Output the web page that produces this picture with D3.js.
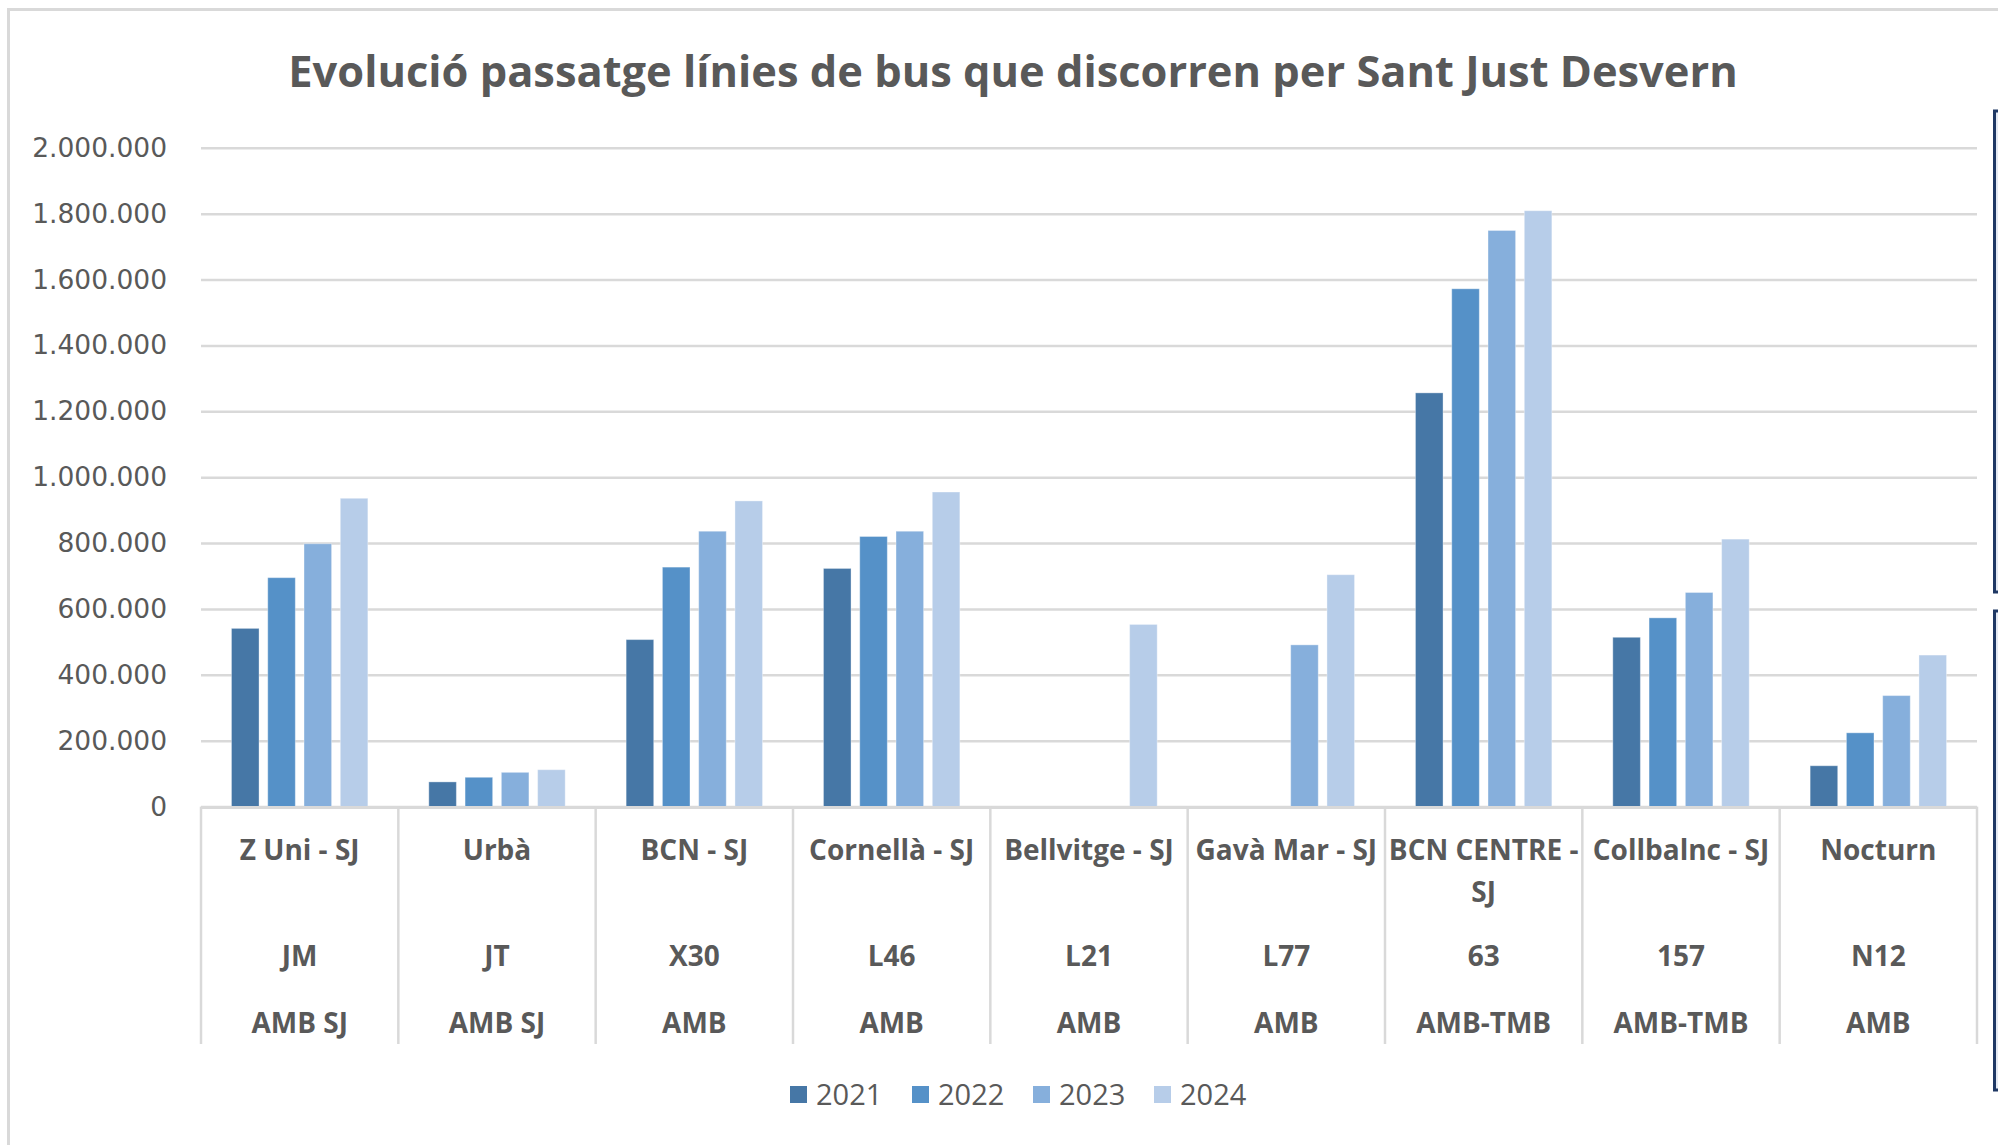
<!DOCTYPE html>
<html>
<head>
<meta charset="utf-8">
<script src="https://cdn.jsdelivr.net/npm/d3@7"></script>
<style>
  html, body { margin: 0; padding: 0; background: #ffffff; overflow: hidden; }
  svg { display: block; }
</style>
</head>
<body>
<svg id="chart" width="1998" height="1145"></svg>
<script>
// ---------- DATA ----------
const titleText = "Evolució passatge línies de bus que discorren per Sant Just Desvern";
const names = ["Z Uni - SJ", "Urbà", "BCN - SJ", "Cornellà - SJ", "Bellvitge - SJ", "Gavà Mar - SJ", "BCN CENTRE - SJ", "Collbalnc - SJ", "Nocturn"];
const codes = ["JM", "JT", "X30", "L46", "L21", "L77", "63", "157", "N12"];
const operators = ["AMB SJ", "AMB SJ", "AMB", "AMB", "AMB", "AMB", "AMB-TMB", "AMB-TMB", "AMB"];
const years = ["2021", "2022", "2023", "2024"];
const v2021 = [541000, 75000, 507000, 723000, null, null, 1256000, 514000, 124000];
const v2022 = [695000, 89000, 727000, 820000, null, null, 1572000, 573000, 224000];
const v2023 = [798000, 104000, 836000, 836000, null, 491000, 1749000, 650000, 337000];
const v2024 = [936000, 112000, 928000, 955000, 553000, 704000, 1809000, 812000, 460000];
const yTicks = [0, 200000, 400000, 600000, 800000, 1000000, 1200000, 1400000, 1600000, 1800000, 2000000];
const colors = ["#4677a6", "#5591c8", "#86afdc", "#b7cde9"];

const seriesValues = [v2021, v2022, v2023, v2024];

// ---------- LAYOUT ----------
const svg = d3.select("#chart");
const plot = { left: 201, right: 1977, top: 147.8, bottom: 806.6 };
const grey = "#595959";
const gridCol = "#d9d9d9";

const locale = d3.formatLocale({ decimal: ",", thousands: ".", grouping: [3], currency: ["", "€"] });
const fmt = locale.format(",d");

const x0 = d3.scaleBand().domain(names).range([plot.left, plot.right]).paddingInner(0).paddingOuter(0);
const x1 = d3.scaleBand().domain(years).range([0, x0.bandwidth()]).paddingInner(0.24).paddingOuter(0.84);
const y = d3.scaleLinear().domain([0, 2000000]).range([plot.bottom, plot.top]);
const color = d3.scaleOrdinal().domain(years).range(colors);

// outer chart border
svg.append("rect")
  .attr("x", 8.5).attr("y", 9.5).attr("width", 2200).attr("height", 1300)
  .attr("fill", "none").attr("stroke", gridCol).attr("stroke-width", 3);

// navy boxes at right edge (adjacent elements)
[[111, 592], [611, 1090]].forEach(([t, b]) => {
  svg.append("rect")
    .attr("x", 1994.5).attr("y", t).attr("width", 60).attr("height", b - t)
    .attr("fill", "#e4e9f2").attr("stroke", "#1f3864").attr("stroke-width", 3);
});

// gridlines
const yAxis = d3.axisLeft(y).tickValues(yTicks).tickFormat(fmt)
  .tickSize(-(plot.right - plot.left)).tickPadding(34);
const gy = svg.append("g").attr("transform", `translate(${plot.left},0)`).call(yAxis);
gy.select(".domain").remove();
gy.selectAll(".tick line").attr("stroke", gridCol).attr("stroke-width", 2.5);
gy.selectAll(".tick text")
  .attr("fill", grey)
  .style("font-family", "'DejaVu Sans', sans-serif")
  .style("font-size", "26.5px");

// bars
const groups = svg.append("g").selectAll("g")
  .data(names.map((n, i) => ({ name: n, i })))
  .join("g")
  .attr("transform", d => `translate(${x0(d.name)},0)`);

groups.selectAll("rect")
  .data(d => years.map((yr, k) => ({ year: yr, value: seriesValues[k][d.i] })).filter(e => e.value != null))
  .join("rect")
  .attr("x", d => x1(d.year))
  .attr("width", x1.bandwidth())
  .attr("y", d => y(d.value))
  .attr("height", d => y(0) - y(d.value))
  .attr("fill", d => color(d.year))
  .attr("stroke", "rgba(255,255,255,0.35)")
  .attr("stroke-width", 1);

// category axis: baseline + dividers
const axisBottomY = 1044;
svg.append("line")
  .attr("x1", plot.left).attr("x2", plot.right)
  .attr("y1", y(0) + 1).attr("y2", y(0) + 1)
  .attr("stroke", gridCol).attr("stroke-width", 3);
const bounds = names.map(n => x0(n)).concat([x0(names[names.length - 1]) + x0.bandwidth()]);
svg.append("g").selectAll("line").data(bounds).join("line")
  .attr("x1", d => d).attr("x2", d => d)
  .attr("y1", y(0)).attr("y2", axisBottomY)
  .attr("stroke", gridCol).attr("stroke-width", 2.5);

// category labels
const catFont = "'Open Sans', sans-serif";
const catSize = 28;
const catG = svg.append("g")
  .style("font-family", catFont).style("font-size", catSize + "px")
  .style("font-weight", 700).attr("fill", grey).attr("text-anchor", "middle");

function wrapLines(text, maxW) {
  const words = text.split(" ");
  const tmp = catG.append("text");
  const lines = [];
  let cur = "";
  words.forEach(w => {
    const test = cur ? cur + " " + w : w;
    tmp.text(test);
    if (tmp.node().getComputedTextLength() > maxW && cur) {
      lines.push(cur);
      cur = w;
    } else {
      cur = test;
    }
  });
  if (cur) lines.push(cur);
  tmp.remove();
  return lines;
}

names.forEach((n, i) => {
  const cx = x0(n) + x0.bandwidth() / 2;
  const lines = wrapLines(n, x0.bandwidth() + 4);
  lines.forEach((ln, j) => {
    catG.append("text").attr("x", cx).attr("y", 860 + j * 42).text(ln);
  });
  catG.append("text").attr("x", cx).attr("y", 966).text(codes[i]);
  catG.append("text").attr("x", cx).attr("y", 1033).text(operators[i]);
});

// title
const title = svg.append("text")
  .attr("x", 1013).attr("y", 87)
  .attr("text-anchor", "middle")
  .attr("fill", grey)
  .style("font-family", "'Open Sans', sans-serif")
  .style("font-weight", 700)
  .style("font-size", "45px")
  .text(titleText);
const tw = title.node().getComputedTextLength();
title.style("font-size", (45 * 1450 / tw) + "px");

// legend
const legendX = [790, 912, 1033, 1154];
const leg = svg.append("g").selectAll("g").data(years).join("g")
  .attr("transform", (d, i) => `translate(${legendX[i]},1086)`);
leg.append("rect").attr("width", 17).attr("height", 17).attr("fill", d => color(d));
leg.append("text")
  .attr("x", 26).attr("y", 19)
  .attr("fill", grey)
  .style("font-family", "'Open Sans', sans-serif")
  .style("font-size", "29px")
  .text(d => d);
</script>
</body>
</html>
